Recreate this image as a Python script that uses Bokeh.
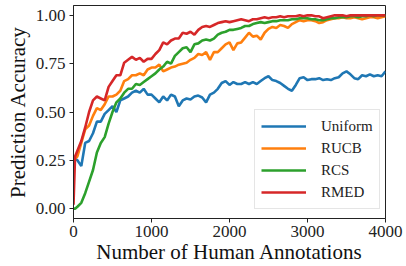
from bokeh.plotting import figure
from bokeh.models import Legend, LegendItem, FixedTicker, NumeralTickFormatter, Range1d
from bokeh.embed import file_html
from bokeh.resources import INLINE

X = [0, 20] + list(range(50, 4001, 50))

UNIFORM = [0.20, 0.26,
           0.25, 0.22, 0.34, 0.35, 0.39, 0.45, 0.45, 0.49, 0.51, 0.53, 0.50, 0.56, 0.57, 0.58, 0.60, 0.61, 0.60, 0.62, 0.59, 0.59,
           0.57, 0.55, 0.58, 0.56, 0.59, 0.58, 0.53, 0.56, 0.57, 0.565, 0.58, 0.585, 0.575, 0.55, 0.59, 0.60, 0.62, 0.65, 0.66, 0.64,
           0.655, 0.645, 0.645, 0.655, 0.645, 0.655, 0.645, 0.66, 0.675, 0.685, 0.665, 0.66, 0.65, 0.635, 0.62, 0.61, 0.64, 0.675, 0.68, 0.665,
           0.67, 0.67, 0.675, 0.665, 0.67, 0.665, 0.675, 0.68, 0.70, 0.71, 0.695, 0.675, 0.67, 0.69, 0.685, 0.695, 0.685, 0.69, 0.685, 0.71]

RUCB = [0.20, 0.26,
        0.27, 0.34, 0.41, 0.43, 0.48, 0.52, 0.51, 0.54, 0.58, 0.58, 0.59, 0.61, 0.66, 0.67, 0.69, 0.69, 0.70, 0.69, 0.72, 0.73,
        0.73, 0.745, 0.71, 0.72, 0.73, 0.735, 0.745, 0.75, 0.755, 0.77, 0.78, 0.80, 0.795, 0.81, 0.77, 0.81, 0.81, 0.83, 0.85, 0.86,
        0.82, 0.855, 0.86, 0.885, 0.91, 0.89, 0.895, 0.875, 0.91, 0.93, 0.94, 0.935, 0.95, 0.945, 0.935, 0.955, 0.965, 0.975, 0.97, 0.975,
        0.975, 0.97, 0.96, 0.965, 0.975, 0.98, 0.985, 0.985, 0.99, 0.985, 0.985, 0.99, 0.985, 0.98, 0.985, 0.99, 0.99, 0.985, 0.99, 0.995]

RCS = [0.0, 0.0,
       0.01, 0.03, 0.08, 0.14, 0.20, 0.29, 0.34, 0.37, 0.44, 0.50, 0.55, 0.57, 0.60, 0.62, 0.62, 0.645, 0.64, 0.655, 0.67, 0.685,
       0.70, 0.72, 0.735, 0.76, 0.75, 0.79, 0.81, 0.83, 0.835, 0.81, 0.85, 0.855, 0.87, 0.875, 0.87, 0.88, 0.90, 0.91, 0.915, 0.925,
       0.925, 0.93, 0.935, 0.945, 0.945, 0.955, 0.96, 0.965, 0.96, 0.965, 0.97, 0.97, 0.975, 0.975, 0.975, 0.98, 0.98, 0.985, 0.985, 0.985,
       0.98, 0.98, 0.975, 0.975, 0.98, 0.985, 0.985, 0.99, 0.99, 0.99, 0.995, 0.995, 0.99, 0.995, 0.995, 1.0, 0.995, 1.0, 1.0, 1.0]

RMED = [0.02, 0.27,
        0.30, 0.35, 0.42, 0.50, 0.56, 0.58, 0.57, 0.56, 0.63, 0.66, 0.69, 0.69, 0.755, 0.77, 0.785, 0.77, 0.78, 0.76, 0.775, 0.775,
        0.80, 0.82, 0.86, 0.85, 0.87, 0.88, 0.88, 0.91, 0.905, 0.915, 0.90, 0.925, 0.94, 0.945, 0.94, 0.95, 0.96, 0.965, 0.97, 0.965,
        0.97, 0.975, 0.98, 0.975, 0.97, 0.98, 0.98, 0.985, 0.99, 0.985, 0.99, 0.99, 0.995, 0.99, 0.995, 0.995, 0.995, 1.0, 0.995, 1.0,
        1.0, 0.995, 0.995, 0.985, 0.99, 0.995, 1.0, 1.0, 1.0, 0.995, 1.0, 1.0, 1.0, 1.0, 1.0, 1.0, 1.0, 1.0, 1.0, 1.0]

SERIES = [("Uniform", UNIFORM, "#1f77b4"),
          ("RUCB", RUCB, "#ff7f0e"),
          ("RCS", RCS, "#2ca02c"),
          ("RMED", RMED, "#d62728")]

X_TICKS = [0, 1000, 2000, 3000, 4000]
Y_TICKS = [0.0, 0.25, 0.5, 0.75, 1.0]

FONT = "Liberation Serif, serif"

p = figure(width=406, height=266, output_backend="svg", toolbar_location=None,
           x_range=Range1d(0, 4000), y_range=Range1d(-0.051, 1.051),
           min_border_left=73, min_border_right=21, min_border_top=5, min_border_bottom=45)
p.xgrid.visible = False
p.ygrid.visible = False
p.outline_line_color = "#222222"
p.outline_line_width = 1
p.outline_line_alpha = 1
p.background_fill_color = "white"
p.border_fill_color = "white"

items = []
for name, ys, color in SERIES:
    r = p.line(X, ys, line_color=color, line_width=2.6)
    items.append(LegendItem(label=name, renderers=[r]))

for ax in (p.xaxis[0], p.yaxis[0]):
    ax.axis_line_color = "#222222"
    ax.major_tick_line_color = "#222222"
    ax.major_tick_in = 0
    ax.major_tick_out = 4
    ax.minor_tick_in = 0
    ax.minor_tick_out = 0
    ax.major_label_text_font = FONT
    ax.major_label_text_font_size = "17px"
    ax.major_label_text_color = "#222222"
    ax.axis_label_text_font = FONT
    ax.axis_label_text_font_size = "21px"
    ax.axis_label_text_font_style = "normal"
    ax.axis_label_text_color = "#111111"

p.xaxis[0].ticker = FixedTicker(ticks=X_TICKS)
p.yaxis[0].ticker = FixedTicker(ticks=Y_TICKS)
p.yaxis[0].formatter = NumeralTickFormatter(format="0.00")
p.xaxis[0].axis_label = "Number of Human Annotations"
p.yaxis[0].axis_label = "Prediction Accuracy"
p.xaxis[0].major_label_standoff = 3
p.yaxis[0].major_label_standoff = 4
p.xaxis[0].axis_label_standoff = 0
p.yaxis[0].axis_label_standoff = 3

legend = Legend(items=items, location=(181, 9),
                label_text_font=FONT, label_text_font_size="15px", label_text_color="#222222",
                glyph_width=45, glyph_height=20, label_height=20, label_standoff=15,
                spacing=2, padding=6, margin=0,
                border_line_color="#cccccc", border_line_width=1,
                background_fill_color="white", background_fill_alpha=0.85)
p.add_layout(legend, "center")

open("out.html", "w").write(file_html(p, INLINE))
